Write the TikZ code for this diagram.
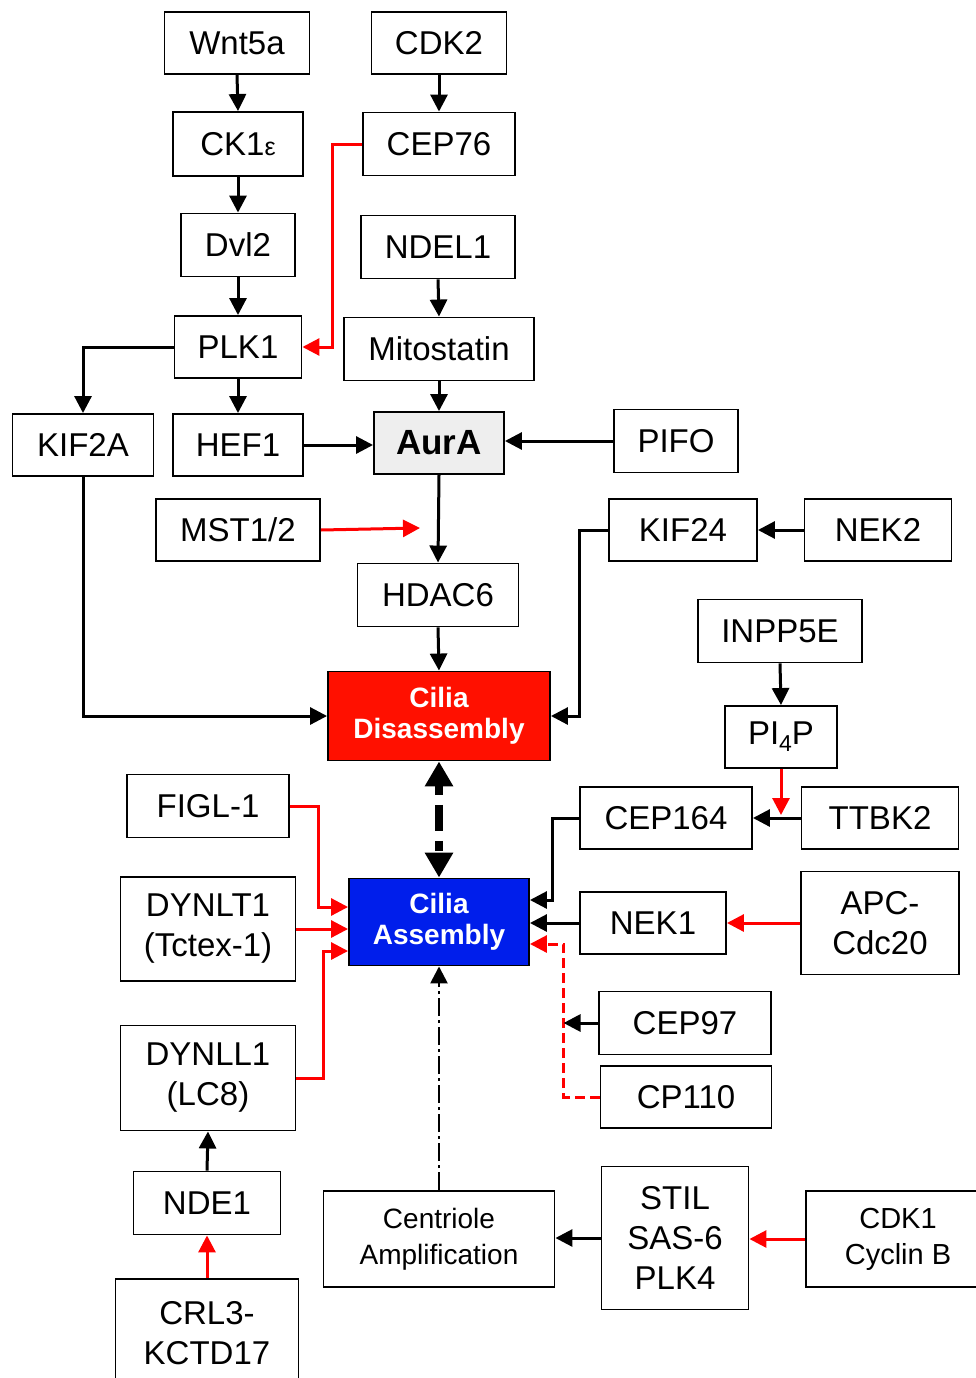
\documentclass[tikz,border=0pt]{standalone}
\usepackage{fontspec}
\setmainfont{Liberation Sans}
\usetikzlibrary{arrows.meta,calc}
\definecolor{disred}{RGB}{255,16,0}
\definecolor{asmblue}{RGB}{0,30,235}
\definecolor{lnred}{RGB}{255,0,0}
\definecolor{auragray}{RGB}{238,238,238}
\tikzset{
  box/.style 2 args={draw, line width=1.9pt, fill=white, minimum width=#1pt, minimum height=#2pt,
    inner sep=0pt, align=center, font=\fontsize{33}{40}\selectfont},
  ba/.style={line width=3pt, -{Triangle[length=17pt,width=17pt]}},
  ra/.style={color=lnred, line width=3pt, -{Triangle[length=17pt,width=17pt]}},
}
\begin{document}
\begin{tikzpicture}[x=1pt,y=-1pt]
\useasboundingbox (0,0) rectangle (976,1378);
% nodes
\node[box={145}{62}] (wnt) at (237,43) {Wnt5a};
\node[box={135}{62}] (cdk2) at (439,43) {CDK2};
\node[box={130}{64}] (ck1) at (238,144) {CK1{\fontsize{25}{25}\selectfont ε}};
\node[box={152}{63}] (cep76) at (439,144) {CEP76};
\node[box={114}{63}] (dvl2) at (238,245) {Dvl2};
\node[box={154}{63}] (ndel1) at (438,247) {NDEL1};
\node[box={127}{62}] (plk1) at (238,347) {PLK1};
\node[box={190}{63}] (mito) at (439,349) {Mitostatin};
\node[box={141}{62}] (kif2a) at (83,445) {KIF2A};
\node[box={130}{62}] (hef1) at (238,445) {HEF1};
\node[box={130}{62}, fill=auragray, font=\fontsize{35}{40}\selectfont\bfseries] (aura) at (439,443) {AurA};
\node[box={124}{63}] (pifo) at (676,441) {PIFO};
\node[box={164}{62}] (mst) at (238,530) {MST1/2};
\node[box={148}{62}] (kif24) at (683,530) {KIF24};
\node[box={147}{62}] (nek2) at (878,530) {NEK2};
\node[box={161}{63}] (hdac6) at (438,595) {HDAC6};
\node[box={164}{63}] (inpp5e) at (780,631) {INPP5E};
\node[box={222}{89}, fill=disred, text=white, font=\fontsize{28}{31}\selectfont\bfseries] (dis) at (439,716) {Cilia\\Disassembly};
\node[box={112}{62}] (pi4p) at (781,737) {PI\raisebox{-7pt}{\fontsize{23}{23}\selectfont 4}P};
\node[box={162}{63}] (figl) at (208,806) {FIGL-1};
\node[box={172}{62}] (cep164) at (666,818) {CEP164};
\node[box={157}{62}] (ttbk2) at (880,818) {TTBK2};
\node[box={175}{104}] (dynlt) at (208,929) {DYNLT1\\(Tctex-1)};
\node[box={180}{87}, fill=asmblue, text=white, font=\fontsize{28}{31}\selectfont\bfseries] (asm) at (439,922) {Cilia\\Assembly};
\node[box={146}{62}] (nek1) at (653,923) {NEK1};
\node[box={158}{103}] (apc) at (880,923) {APC-\\Cdc20};
\node[box={172}{63}] (cep97) at (685,1023) {CEP97};
\node[box={175}{105}] (dynll) at (208,1078) {DYNLL1\\(LC8)};
\node[box={171}{62}] (cp110) at (686,1097) {CP110};
\node[box={147}{63}] (nde1) at (207,1203) {NDE1};
\node[box={231}{96}, font=\fontsize{28}{36}\selectfont] (cent) at (439,1239) {Centriole\\Amplification};
\node[box={147}{143}] (stil) at (675,1238) {STIL\\SAS-6\\PLK4};
\node[box={184}{96}, font=\fontsize{29}{36}\selectfont] (cdk1) at (898,1239) {CDK1\\Cyclin B};
\node[box={183}{108}] (crl3) at (207,1333) {CRL3-\\KCTD17};
% free ends
\coordinate (mste) at (420,528);
\coordinate (pi4pe) at (781,815);
% black connectors
\draw[ba] (wnt.south) -- (ck1.north);
\draw[ba] (ck1.south) -- (dvl2.north);
\draw[ba] (dvl2.south) -- (plk1.north);
\draw[ba] (cdk2.south) -- (cep76.north);
\draw[ba] (ndel1.south) -- (mito.north);
\draw[ba] (plk1.south) -- (hef1.north);
\draw[ba] (mito.south) -- (aura.north);
\draw[ba] (plk1.west) -| (kif2a.north);
\draw[ba] (hef1.east) -- (aura.west |- hef1.east);
\draw[ba] (pifo.west) -- (aura.east |- pifo.west);
\draw[ba] (aura.south) -- (hdac6.north);
\draw[ba] (hdac6.south) -- (dis.north);
\draw[ba] (kif2a.south) |- (dis.west);
\draw[ba] (kif24.west) -- ++(-29,0) |- (dis.east);
\draw[ba] (nek2.west) -- (kif24.east);
\draw[ba] (inpp5e.south) -- (pi4p.north);
\draw[ba] (ttbk2.west) -- (cep164.east);
\draw[ba] (cep164.west) -- ++(-27,0) |- ([yshift=22pt]asm.east);
\draw[ba] (nek1.west) -- (asm.east |- nek1.west);
\draw[ba] (nde1.north) -- (dynll.south);
\draw[ba] (stil.west) -- (cent.east |- stil.west);
% red connectors
\draw[ra] (cep76.west) -- ++(-30,0) |- (plk1.east);
\draw[ra] (mst.east) -- (mste);
\draw[ra] (pi4p.south) -- (pi4pe);
\draw[ra] (apc.west) -- (nek1.east);
\draw[ra, dash pattern=on 10pt off 5pt] (cp110.west) -- ++(-36,0) coordinate (cpc) |- ([yshift=-22pt]asm.east);
\draw[ba] (cep97.west) -- (cep97.west -| cpc);
\draw[ra] (figl.east) -- ++(29,0) |- ([yshift=15pt]asm.west);
\draw[ra] (dynlt.east) -- (asm.west |- dynlt.east);
\draw[ra] (dynll.east) -- ++(27,0) |- ([yshift=-29pt]asm.west);
\draw[ra] (crl3.north) -- (nde1.south);
\draw[ra] (cdk1.west) -- (stil.east |- cdk1.west);
% dash-dot from centriole amplification
\draw[line width=2.6pt, -{Triangle[length=17pt,width=17pt]}, dash pattern=on 18pt off 4pt on 3pt off 4pt] (cent.north) -- (asm.south);
% thick double dashed arrow
\draw[line width=8pt, {Triangle[length=25pt,width=27pt]}-{Triangle[length=25pt,width=27pt]}, dash pattern=on 10pt off 10pt on 26pt off 10pt] (dis.south) -- (asm.north);
\end{tikzpicture}
\end{document}
